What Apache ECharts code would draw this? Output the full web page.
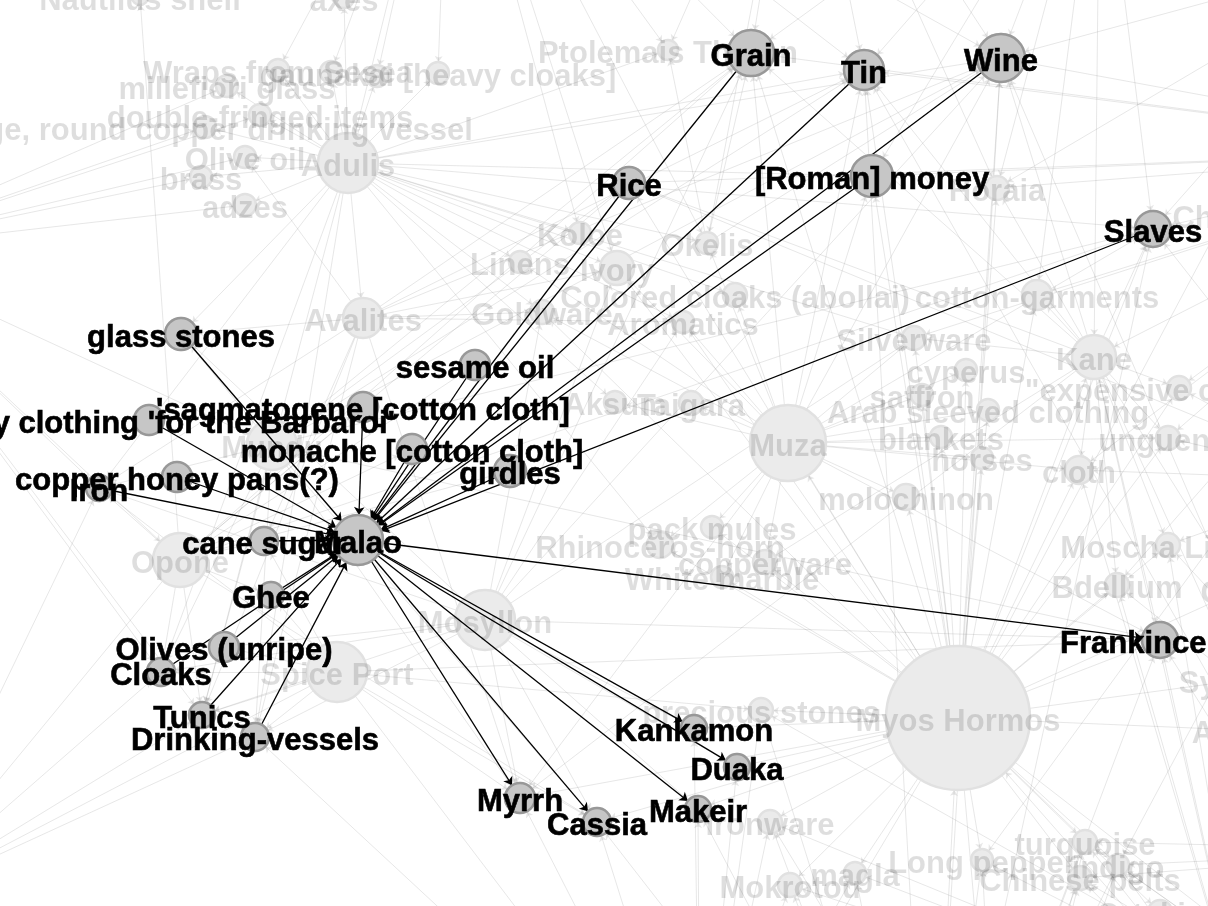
<!DOCTYPE html>
<html>
<head>
<meta charset="utf-8">
<title>Malao</title>
<script src="https://cdn.jsdelivr.net/npm/echarts@6/dist/echarts.min.js"></script>
<style>
    html, body { margin: 0; padding: 0; background: #fff; }
    #chart { width: 1208px; height: 906px; }
</style>
</head>
<body>
<div id="chart"></div>
<script>
// selected port
var hubName = "Malao";
var hubX = 358, hubY = 540, hubSize = 50;

// goods linked to Malao (last drawn label wins on overlap)
var focusNames = ["glass stones", "Sundry clothing 'for the Barbaroi'", "'sagmatogene [cotton cloth]",
    "copper honey pans(?)", "Iron", "monache [cotton cloth]", "sesame oil", "girdles", "Rice", "Grain",
    "Tin", "Wine", "[Roman] money", "Slaves", "cane sugar", "Ghee", "Olives (unripe)", "Cloaks", "Tunics",
    "Drinking-vessels", "Frankincense", "Kankamon", "Duaka", "Makeir", "Cassia", "Myrrh"];
var focusX = [181, 149, 363, 177, 99, 412, 475, 510, 629, 751, 864, 1001, 872, 1153, 264, 271, 224, 161, 202, 255, 1160, 694, 737, 698, 597, 520];
var focusY = [334, 420, 407, 477, 488, 449, 365, 471, 183, 53, 70, 58, 176, 229, 541, 595, 647, 672, 715, 737, 640, 728, 767, 809, 822, 798];
var focusSize = [32, 30, 30, 30, 26, 30, 30, 32, 32, 46, 40, 48, 42, 36, 28, 26, 30, 28, 26, 28, 36, 26, 26, 26, 28, 30];

// what Malao sends out (arrow points away from Malao)
var exportGoods = ["Frankincense", "Kankamon", "Duaka", "Makeir", "Cassia", "Myrrh"];

// rest of the network, faded
var otherNames = ["Adulis", "Avalites", "Mundu", "Opone", "Spice Port", "Mosyllon", "Muza", "Kane", "Myos Hormos",
    "Ptolemais Theron", "Koloe", "Linens", "Ivory", "Okelis", "Goldware", "Colored cloaks (abollai)",
    "cotton-garments", "Aromatics", "Aksum", "Taigara", "Silverware", "cyperus", "saffron",
    "Arab sleeved clothing", "blankets", "horses", "molochinon", "\"expensive clothing\"", "unguents", "cloth",
    "pack mules", "Rhinoceros-horn", "copperware", "White marble", "Moscha Limen", "Bdellium",
    "precious stones", "Ironware", "turquoise", "Long pepper", "indigo", "Chinese pelts", "magla", "Mokrotou",
    "Horaia", "Nautilus shell", "axes", "millefiori glass", "Wraps from Sesea", "gaunakai [heavy cloaks]",
    "double-fringed items", "Large, round copper drinking vessel", "Olive oil", "brass", "adzes",
    "Chryse", "Syagros", "Arabia", "Coral", "orpiment", "realgar",
    "Barygaza", "Muziris", "Berenice", "Arsinoe", "Egypt", "Sokotra", "Omana", "Rhapta", "Barbarikon",
    "Nelkynda", "Apologos", "Limyrike", "Koptos", "Leuke Kome", "Ortykion"];
var otherX = [348, 363, 272, 180, 337, 485, 788, 1094, 958,
    668, 580, 520, 617, 707, 542, 735,
    1037, 683, 615, 691, 914, 966, 922,
    988, 941, 982, 906, 1179, 1168, 1079,
    712, 660, 765, 722, 1168, 1117,
    761, 770, 1085, 982, 1118, 1080, 855, 790,
    997, 140, 344, 227, 278, 438,
    260, 205, 245, 201, 245,
    1225, 1240, 1240, 1240, 331, 377,
    1500, 1450, 700, -150, 450, 1350, 1100, -100, 1450,
    1000, 800, 1400, 930, 1250, 1160];
var otherY = [163, 318, 445, 560, 672, 620, 443, 357, 718,
    50, 233, 262, 268, 243, 312, 295,
    295, 322, 402, 403, 338, 370, 395,
    410, 437, 458, 497, 388, 438, 470,
    527, 545, 562, 577, 545, 585,
    710, 822, 842, 860, 865, 878, 873, 885,
    188, -3, -2, 86, 70, 73,
    115, 127, 157, 177, 205,
    215, 680, 730, 590, 72, 76,
    150, 1100, 1150, 250, -250, 480, -200, 900, 850,
    1200, -250, -50, 1250, 1050, 912];
var otherSize = [60, 40, 50, 54, 60, 60, 76, 44, 144,
    20, 22, 22, 34, 22, 24, 24,
    30, 22, 22, 24, 24, 22, 22,
    22, 22, 22, 26, 24, 24, 28,
    22, 26, 24, 22, 24, 24,
    24, 24, 24, 22, 22, 24, 22, 24,
    24, 16, 20, 22, 22, 22,
    22, 22, 22, 22, 22,
    24, 24, 24, 24, 22, 22,
    40, 40, 40, 40, 40, 40, 40, 40, 40,
    40, 40, 40, 40, 40, 24];
var unlabeled = ["orpiment", "realgar"];

// faded links: [port, goods]
var otherLinks = [
    ["Egypt", ["Adulis", "Ptolemais Theron", "axes", "Nautilus shell", "Grain", "Tin", "Wine", "Wraps from Sesea", "gaunakai [heavy cloaks]", "Ivory", "Okelis", "Koloe", "orpiment", "realgar"]],
    ["Arsinoe", ["Cloaks", "Tunics", "millefiori glass", "double-fringed items", "Large, round copper drinking vessel", "brass", "Iron", "Olive oil", "Opone", "Mundu", "adzes"]],
    ["Adulis", ["millefiori glass", "Wraps from Sesea", "gaunakai [heavy cloaks]", "double-fringed items", "Large, round copper drinking vessel", "Olive oil", "brass", "adzes", "axes", "Ivory", "Rhinoceros-horn", "Linens", "Goldware", "Wine", "Tin", "Koloe", "Ptolemais Theron", "Iron", "glass stones", "Colored cloaks (abollai)", "Aromatics", "Silverware", "Tunics", "Cloaks", "Drinking-vessels", "Avalites", "Okelis", "Slaves", "[Roman] money", "orpiment", "realgar", "Aksum"]],
    ["Avalites", ["glass stones", "Olive oil", "Tin", "Wine", "Grain", "Iron", "Drinking-vessels", "Tunics", "cane sugar", "Ivory", "Myrrh", "Aromatics", "Goldware"]],
    ["Mundu", ["Tin", "Iron", "Tunics", "Cloaks", "Frankincense", "Cassia", "Myrrh", "Drinking-vessels", "glass stones", "Grain", "Rice", "Wine", "Slaves"]],
    ["Opone", ["Grain", "Rice", "Ghee", "sesame oil", "girdles", "monache [cotton cloth]", "'sagmatogene [cotton cloth]", "cane sugar", "Slaves", "Cassia", "Nautilus shell", "Iron", "Tunics", "Cloaks", "Rhapta"]],
    ["Mosyllon", ["Cassia", "Frankincense", "Myrrh", "Ivory", "Tunics", "Cloaks", "Iron", "Drinking-vessels", "glass stones", "Grain", "Wine", "Silverware", "Aromatics", "Duaka", "Makeir", "Kankamon", "Goldware", "Olives (unripe)"]],
    ["Spice Port", ["Cassia", "Frankincense", "Myrrh", "Drinking-vessels", "cane sugar", "Tunics", "Cloaks", "Olives (unripe)", "Ghee", "Iron", "Rhapta", "Berenice", "precious stones"]],
    ["Muza", ["Myrrh", "Frankincense", "Arab sleeved clothing", "saffron", "cyperus", "blankets", "molochinon", "unguents", "Wine", "Grain", "Slaves", "[Roman] money", "Silverware", "Colored cloaks (abollai)", "Goldware", "Aromatics", "horses", "pack mules", "copperware", "cloth", "Tin", "White marble", "Rhinoceros-horn", "Okelis", "Taigara", "Aksum", "Ivory", "Linens"]],
    ["Kane", ["Frankincense", "Wine", "Grain", "Slaves", "copperware", "Tin", "Silverware", "\"expensive clothing\"", "cloth", "unguents", "cotton-garments", "Horaia", "Moscha Limen", "Myrrh", "Rice", "Coral", "Bdellium", "Syagros"]],
    ["Myos Hormos", ["precious stones", "Ironware", "turquoise", "Long pepper", "indigo", "Chinese pelts", "magla", "Mokrotou", "Wine", "Grain", "Tin", "[Roman] money", "Slaves", "Frankincense", "Cassia", "Myrrh", "Ivory", "Rhinoceros-horn", "White marble", "copperware", "pack mules", "molochinon", "Horaia", "cotton-garments", "Moscha Limen", "Bdellium", "cloth", "horses", "\"expensive clothing\"", "unguents", "Coral", "Arabia", "Syagros", "Kane", "Muza", "Silverware", "cyperus", "saffron", "blankets", "Arab sleeved clothing", "Kankamon", "Duaka", "Makeir", "Chryse", "Berenice", "Nelkynda", "Muziris", "Ortykion", "Rice", "Aromatics", "Goldware"]],
    ["Koptos", ["Myos Hormos", "Ironware", "magla", "Mokrotou", "turquoise", "Long pepper", "indigo", "Chinese pelts", "Ortykion", "precious stones", "Cassia", "Makeir", "Wine", "Tin", "Slaves", "Frankincense"]],
    ["Leuke Kome", ["Myos Hormos", "turquoise", "Chinese pelts", "indigo", "Bdellium", "Moscha Limen", "cloth", "Ortykion", "Arabia", "Syagros", "Frankincense", "Kane"]],
    ["Barygaza", ["Wine", "Tin", "Grain", "Rice", "Slaves", "[Roman] money", "Horaia", "Chryse", "cotton-garments", "Bdellium", "Long pepper", "indigo", "Coral", "\"expensive clothing\"", "unguents", "cloth", "Silverware", "Kane", "Sokotra", "Omana"]],
    ["Muziris", ["Long pepper", "turquoise", "Chinese pelts", "Ironware", "indigo", "Wine", "precious stones", "Coral", "Frankincense", "Tin", "magla", "Mokrotou", "Nelkynda"]],
    ["Berenice", ["Mokrotou", "magla", "Ironware", "precious stones", "Cassia", "Myrrh", "Makeir", "Duaka", "Kankamon", "Drinking-vessels"]],
    ["Omana", ["Wine", "Slaves", "Horaia", "Grain", "Kane", "Tin", "[Roman] money", "cotton-garments"]],
    ["Apologos", ["Wine", "Grain", "Tin", "Ptolemais Theron", "Okelis", "Horaia"]],
    ["Sokotra", ["Rice", "Slaves", "cloth", "Moscha Limen", "Syagros", "Arabia", "Coral", "unguents", "\"expensive clothing\""]],
    ["Nelkynda", ["turquoise", "Long pepper", "indigo", "Chinese pelts", "Ironware"]],
    ["Barbarikon", ["turquoise", "indigo", "Chinese pelts", "Bdellium", "Coral", "Syagros", "Arabia", "Moscha Limen"]],
    ["Limyrike", ["Wine", "Chryse", "Slaves", "Horaia"]],
    ["Rhapta", ["Drinking-vessels", "Tunics", "Cloaks", "Iron"]],
    ["Okelis", ["Wine", "Grain", "Ptolemais Theron"]]
];

var labelFont = {
    fontFamily: "Liberation Sans, Arial, sans-serif",
    fontWeight: "bold",
    fontSize: 31
};

function buildFaded() {
    var nodes = [], links = [];
    var i;
    for (i = 0; i < otherNames.length; i++) {
        nodes.push({
            name: otherNames[i],
            value: [otherX[i], otherY[i]],
            symbolSize: otherSize[i],
            label: { show: unlabeled.indexOf(otherNames[i]) < 0 }
        });
    }
    // linked goods sit underneath the dark copies
    for (i = 0; i < focusNames.length; i++) {
        nodes.push({
            name: focusNames[i],
            value: [focusX[i], focusY[i]],
            symbolSize: focusSize[i],
            label: { show: false }
        });
    }
    nodes.push({ name: hubName, value: [hubX, hubY], symbolSize: hubSize, label: { show: false } });
    otherLinks.forEach(function (row) {
        row[1].forEach(function (g) {
            links.push({ source: row[0], target: g });
        });
    });
    return { nodes: nodes, links: links };
}

function buildFocus() {
    var nodes = [], links = [];
    for (var i = 0; i < focusNames.length; i++) {
        nodes.push({
            name: focusNames[i],
            value: [focusX[i], focusY[i]],
            symbolSize: focusSize[i]
        });
        if (exportGoods.indexOf(focusNames[i]) >= 0) {
            links.push({ source: hubName, target: focusNames[i] });
        } else {
            links.push({ source: focusNames[i], target: hubName });
        }
    }
    nodes.push({ name: hubName, value: [hubX, hubY], symbolSize: hubSize });
    return { nodes: nodes, links: links };
}

var faded = buildFaded();
var focus = buildFocus();

var chart = echarts.init(document.getElementById("chart"));
chart.setOption({
    animation: false,
    backgroundColor: "#fff",
    grid: { left: 0, right: 0, top: 0, bottom: 0 },
    xAxis: { type: "value", min: 0, max: 1208, show: false },
    yAxis: { type: "value", min: 0, max: 906, inverse: true, show: false },
    series: [
        {
            type: "graph",
            coordinateSystem: "cartesian2d",
            z: 1,
            symbol: "circle",
            edgeSymbol: ["none", "arrow"],
            edgeSymbolSize: 6,
            itemStyle: { color: "#ebebeb", borderColor: "#e1e1e1", borderWidth: 2.5 },
            lineStyle: { color: "#888", width: 1, opacity: 0.2, curveness: 0 },
            label: Object.assign({ show: true, position: "inside", color: "rgba(0,0,0,0.13)", offset: [0, 4] }, labelFont),
            emphasis: { disabled: true },
            data: faded.nodes,
            links: faded.links
        },
        {
            type: "graph",
            coordinateSystem: "cartesian2d",
            z: 2,
            symbol: "circle",
            edgeSymbol: ["none", "arrow"],
            edgeSymbolSize: 8,
            itemStyle: { color: "#c6c6c6", borderColor: "#989898", borderWidth: 2.5, opacity: 1 },
            lineStyle: { color: "#000", width: 1.3, opacity: 1, curveness: 0 },
            label: Object.assign({
                show: true, position: "inside", color: "#000", offset: [0, 4],
                textBorderColor: "#000", textBorderWidth: 0.6
            }, labelFont),
            emphasis: { disabled: true },
            data: focus.nodes,
            links: focus.links
        }
    ]
});
</script>
</body>
</html>
